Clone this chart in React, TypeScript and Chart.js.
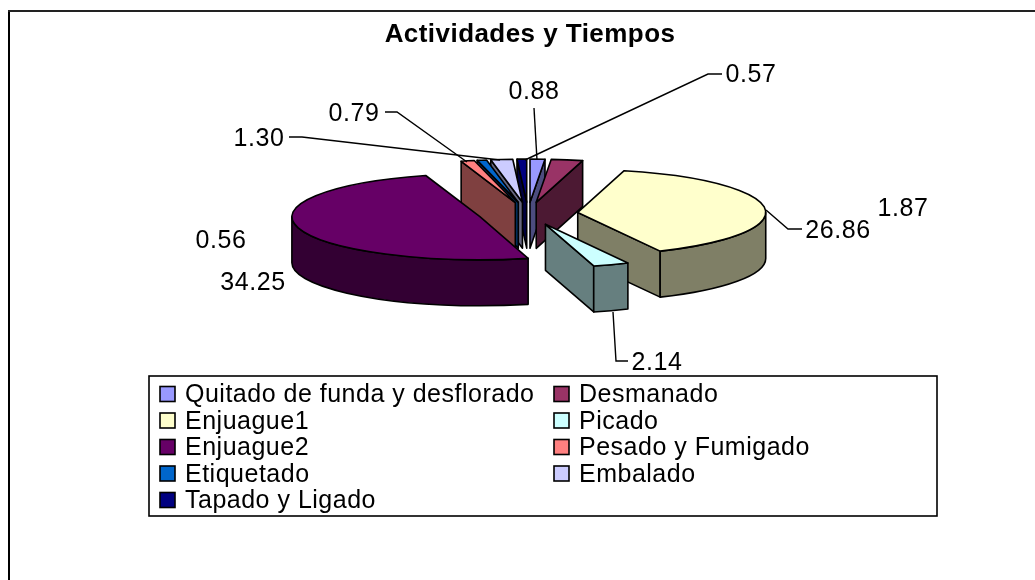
import React, { useEffect, useRef } from "react";
import { Chart, registerables } from "chart.js";

Chart.register(...registerables);

const TITLE = "Actividades y Tiempos";
const categories = [
  "Quitado de funda y desflorado",
  "Desmanado",
  "Enjuague1",
  "Picado",
  "Enjuague2",
  "Pesado y Fumigado",
  "Etiquetado",
  "Embalado",
  "Tapado y Ligado",
];
const values = [0.88, 1.87, 26.86, 2.14, 34.25, 0.79, 0.56, 1.3, 0.57];
const faceColors = ["#9999FF", "#993366", "#FFFFCC", "#CCFFFF", "#660066", "#FF8080", "#0066CC", "#CCCCFF", "#000080"];
const wallColors = ["#4C4C7F", "#4C1933", "#7F7F66", "#667F7F", "#330033", "#7F4040", "#003366", "#66667F", "#000040"];

// Where each value label sits on the canvas, and its leader line.
const labelCentres: number[][] = [
  [534, 92], [903, 209], [838, 231], [657, 363], [253, 283], [354, 114], [221, 241], [259, 139], [751, 75],
];
const leaders: number[][][] = [
  [[534, 108], [537, 160]],
  [],
  [[802, 229], [788, 229], [766, 210]],
  [[628, 361], [616, 361], [613, 312]],
  [],
  [[385, 112], [397, 112], [467, 162]],
  [],
  [[289, 137], [302, 137], [500, 160]],
  [[722, 74], [708, 74], [525, 160]],
];

const TILT = 0.229;
const DEPTH = 46;
const PIE_SHIFT_X = -2;
const FONT = "Liberation Sans, Arial, sans-serif";

const pie3d = {
  id: "pie3d",
  beforeDraw(chart: any) {
    chart.ctx.letterSpacing = "0.45px";
  },
  beforeDatasetsDraw(chart: any) {
    const ctx = chart.ctx;
    const arcs = chart.getDatasetMeta(0).data.map((arc: any, i: number) => {
      const mid = (arc.startAngle + arc.endAngle) / 2;
      const off = arc.options.offset;
      return {
        i,
        s: arc.startAngle,
        e: arc.endAngle,
        R: arc.outerRadius,
        cx: arc.x + PIE_SHIFT_X + Math.cos(mid) * off,
        cy: arc.y + Math.sin(mid) * off * TILT,
      };
    });
    arcs.sort((a: any, b: any) => a.cy - b.cy);
    ctx.save();
    ctx.lineWidth = 1.6;
    ctx.strokeStyle = "#000";
    ctx.lineJoin = "round";
    for (const a of arcs) {
      const rx = a.R;
      const ry = a.R * TILT;
      ctx.fillStyle = wallColors[a.i];
      const wall = (angle: number) => {
        const px = a.cx + Math.cos(angle) * rx;
        const py = a.cy + Math.sin(angle) * ry;
        ctx.beginPath();
        ctx.moveTo(a.cx, a.cy);
        ctx.lineTo(px, py);
        ctx.lineTo(px, py + DEPTH);
        ctx.lineTo(a.cx, a.cy + DEPTH);
        ctx.closePath();
        ctx.fill();
        ctx.stroke();
      };
      // radial walls that face the viewer
      if (Math.cos(a.s) < 0) wall(a.s);
      if (Math.cos(a.e) > 0) wall(a.e);
      // outer curved wall, front half only
      const a0 = Math.max(a.s, 0);
      const a1 = Math.min(a.e, Math.PI);
      if (a1 > a0) {
        ctx.beginPath();
        ctx.ellipse(a.cx, a.cy, rx, ry, 0, a0, a1);
        ctx.ellipse(a.cx, a.cy + DEPTH, rx, ry, 0, a1, a0, true);
        ctx.closePath();
        ctx.fill();
        ctx.stroke();
      }
      // top face
      ctx.beginPath();
      ctx.moveTo(a.cx, a.cy);
      ctx.ellipse(a.cx, a.cy, rx, ry, 0, a.s, a.e);
      ctx.closePath();
      ctx.fillStyle = faceColors[a.i];
      ctx.fill();
      ctx.stroke();
    }
    ctx.restore();
    return false;
  },
  afterDraw(chart: any) {
    const ctx = chart.ctx;
    ctx.save();
    // frame, cut off by the picture on the right and below
    ctx.fillStyle = "#000";
    ctx.fillRect(8, 10, 2, 570);
    ctx.fillStyle = "#222";
    ctx.fillRect(8, 10, 1027, 2);

    // leaders + value labels
    ctx.strokeStyle = "#000";
    ctx.lineWidth = 1.4;
    leaders.forEach((pts) => {
      if (!pts.length) return;
      ctx.beginPath();
      pts.forEach(([x, y], k) => (k ? ctx.lineTo(x, y) : ctx.moveTo(x, y)));
      ctx.stroke();
    });
    ctx.fillStyle = "#000";
    ctx.font = `25px ${FONT}`;
    ctx.letterSpacing = "0.6px";
    ctx.textAlign = "center";
    ctx.textBaseline = "middle";
    chart.data.datasets[0].data.forEach((v: number, i: number) => {
      const [x, y] = labelCentres[i];
      ctx.fillText(v.toFixed(2), x, y);
    });

    // legend in two columns, filled row by row
    ctx.lineWidth = 1.6;
    ctx.strokeRect(149, 376, 788, 140);
    ctx.textAlign = "left";
    ctx.letterSpacing = "0.5px";
    chart.data.labels.forEach((label: string, i: number) => {
      const col = i % 2;
      const y = 394 + 26.5 * Math.floor(i / 2);
      const sx = col ? 554 : 160;
      ctx.fillStyle = faceColors[i];
      ctx.fillRect(sx, y - 7.5, 15, 15);
      ctx.strokeRect(sx, y - 7.5, 15, 15);
      ctx.fillStyle = "#000";
      ctx.fillText(label, col ? 579 : 185, y + 1.5);
    });
    ctx.restore();
  },
};

export default function App() {
  const ref = useRef<HTMLCanvasElement>(null);
  useEffect(() => {
    const chart = new Chart(ref.current!, {
      type: "pie",
      data: {
        labels: categories,
        datasets: [
          {
            data: values,
            backgroundColor: faceColors,
            borderColor: "#000",
            borderWidth: 1,
            offset: 50,
            hoverOffset: 0,
            radius: 188,
          } as any,
        ],
      },
      options: {
        responsive: false,
        animation: false,
        events: [],
        layout: { padding: { left: 25, right: 0, top: 0, bottom: 203 } },
        plugins: {
          legend: { display: false },
          tooltip: { enabled: false },
          title: {
            display: true,
            text: TITLE,
            color: "#000",
            font: { family: FONT, size: 26, weight: "bold" },
            padding: { top: 19, bottom: 0 },
          },
        },
      },
      plugins: [pie3d],
    });
    return () => chart.destroy();
  }, []);
  return (
    <div style={{ position: "absolute", left: 0, top: 0, width: 1035, height: 580, background: "#fff" }}>
      <canvas ref={ref} width={1035} height={580} style={{ display: "block" }} />
    </div>
  );
}
